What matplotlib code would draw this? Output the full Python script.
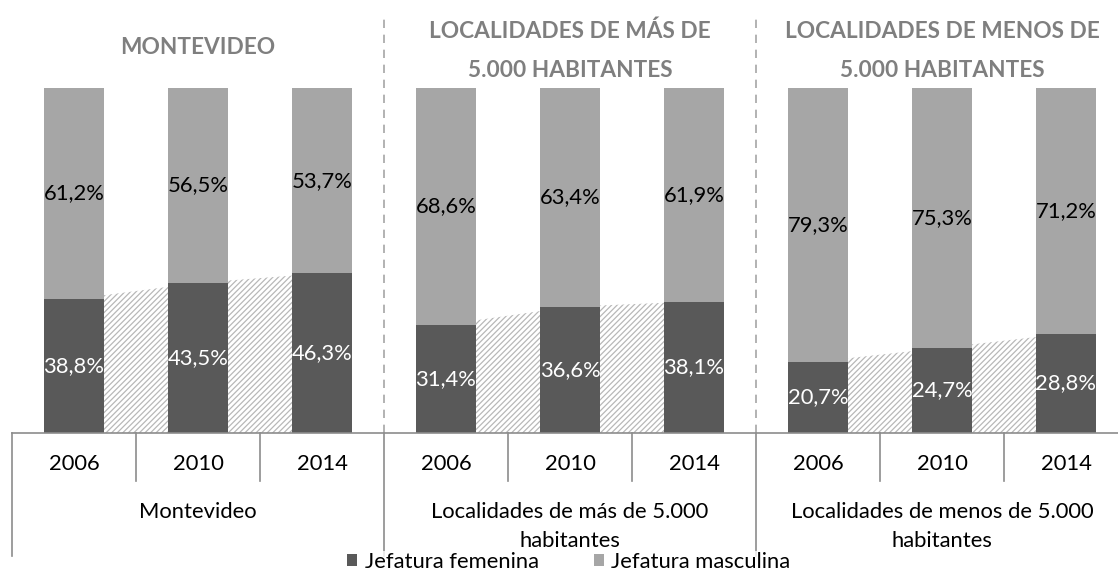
import numpy as np
import matplotlib
matplotlib.use("Agg")
import matplotlib.pyplot as plt
from matplotlib.patches import Patch

plt.rcParams['font.family'] = ['Lato', 'DejaVu Sans']
plt.rcParams['hatch.linewidth'] = 0.9

years = ['2006', '2010', '2014']
group_labels = [['Montevideo'],
                ['Localidades de más de 5.000', 'habitantes'],
                ['Localidades de menos de 5.000', 'habitantes']]
group_titles = [['MONTEVIDEO'],
                ['LOCALIDADES DE MÁS DE', '5.000 HABITANTES'],
                ['LOCALIDADES DE MENOS DE', '5.000 HABITANTES']]
femenina = [38.8, 43.5, 46.3, 31.4, 36.6, 38.1, 20.7, 24.7, 28.8]
masculina = [61.2, 56.5, 53.7, 68.6, 63.4, 61.9, 79.3, 75.3, 71.2]

dark = '#595959'
light = '#a6a6a6'
linec = '#8c8c8c'
fs = 15.8

fig = plt.figure(figsize=(11.18, 5.72), dpi=100)
ax = fig.add_axes([12 / 1118, 139 / 572, 1116 / 1118, 345 / 572])
ax.set_xlim(-0.5, 8.5)
ax.set_ylim(0, 100)
ax.axis('off')

x = np.arange(len(femenina))
w = 0.476

# hatched area behind bars, one per group
for g in range(3):
    xs = x[g * 3:g * 3 + 3]
    ys = femenina[g * 3:g * 3 + 3]
    ax.fill_between(xs, 0, ys, facecolor='white', edgecolor='#b8b8b8',
                    hatch='//////', linewidth=0, zorder=1)

ax.bar(x, femenina, w, color=dark, zorder=2)
ax.bar(x, masculina, w, bottom=femenina, color=light, zorder=2)

def fmt(v):
    return f"{v:.1f}%".replace('.', ',')

for i in range(len(x)):
    ax.text(x[i], femenina[i] / 2, fmt(femenina[i]), color='white',
            ha='center', va='center', fontsize=fs, zorder=3)
    ax.text(x[i], femenina[i] + masculina[i] / 2, fmt(masculina[i]),
            color='black', ha='center', va='center', fontsize=fs, zorder=3)

# axis and category table lines
ax.plot([-0.5, 8.5], [0, 0], color=linec, lw=1.2, clip_on=False, zorder=4)
ax.plot([-0.5, -0.5], [0, -35.7], color=linec, lw=1.2, clip_on=False)
for b in [0.5, 1.5, 3.5, 4.5, 6.5, 7.5]:
    ax.plot([b, b], [0, -13.9], color=linec, lw=1.2, clip_on=False)
for b in [2.5, 5.5]:
    ax.plot([b, b], [0, -35.7], color=linec, lw=1.2, clip_on=False)
    ax.plot([b, b], [0, 121.2], color='#a6a6a6', lw=1.2, ls=(0, (5, 4)),
            clip_on=False)

for i in range(len(x)):
    ax.text(x[i], -9.0, years[i % 3], ha='center', va='center', fontsize=fs)

for g in range(3):
    cx = g * 3 + 1
    lines = group_labels[g]
    for k, t in enumerate(lines):
        ax.text(cx, -22.9 - k * 8.4, t, ha='center', va='center', fontsize=fs)
    tl = group_titles[g]
    if len(tl) == 1:
        ax.text(cx, 111.6, tl[0], ha='center', va='center', fontsize=16.3,
                fontweight='bold', color='#7f7f7f')
    else:
        for k, t in enumerate(tl):
            ax.text(cx, 116.5 - k * 11.3, t, ha='center', va='center',
                    fontsize=16.3, fontweight='bold', color='#7f7f7f')

handles = [Patch(facecolor=dark, label='Jefatura femenina'),
           Patch(facecolor=light, label='Jefatura masculina')]
leg = fig.legend(handles=handles, loc='center', bbox_to_anchor=(569 / 1118, 1 - 562 / 572),
                 ncol=2, frameon=True, fontsize=fs, handlelength=0.45,
                 handleheight=0.45, handletextpad=0.35, columnspacing=2.5,
                 borderpad=0.05, borderaxespad=0)
leg.get_frame().set_facecolor('white')
leg.get_frame().set_edgecolor('none')
leg.set_zorder(10)

fig.savefig('out.png', dpi=100)
